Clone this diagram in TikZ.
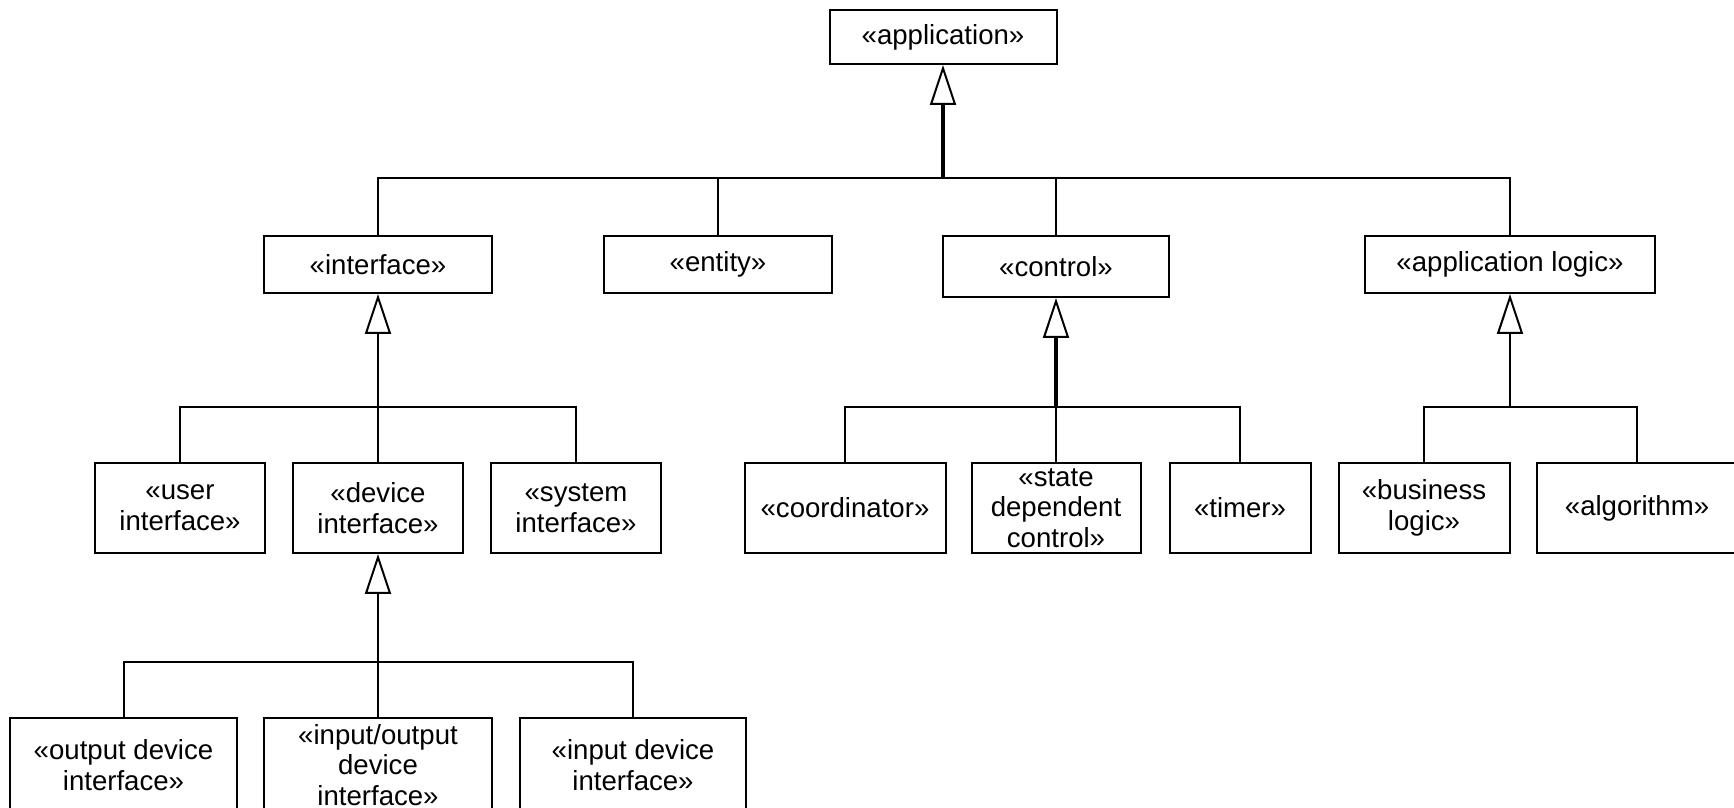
\documentclass[tikz,border=0pt]{standalone}
\usepackage{fontspec}
\setmainfont{Liberation Sans}
\usetikzlibrary{arrows.meta}

\begin{document}
\begin{tikzpicture}[x=0.5pt, y=0.5pt,
		stereo/.style={rectangle, draw, line width=1pt, align=center, inner sep=0pt, font=\fontsize{13.8}{15.3}\selectfont},
		gen/.style={-{Triangle[open, length=20pt, width=13pt, line width=1pt]}, line width=1pt},
		wire/.style={line width=1pt}]
		\clip (0,0) rectangle (1734,808);
		\fill [white] (0,0) rectangle (1734,808);
		
		\node (app) [stereo, minimum width=113.5pt, minimum height=27pt] at (943,771) {«application»};
		
		\node (iface) [stereo, minimum width=114pt, minimum height=28.5pt] at (378,543.5) {«interface»};
		\node (entity) [stereo, minimum width=114pt, minimum height=28.5pt] at (718,543.5) {«entity»};
		\node (control) [stereo, minimum width=113pt, minimum height=30.5pt] at (1056,541.5) {«control»};
		\node (applogic) [stereo, minimum width=145pt, minimum height=28.5pt] at (1510,543.5) {«application logic»};
		
		\node (user) [stereo, minimum width=85pt, minimum height=45pt] at (180,300) {«user\\interface»};
		\node (device) [stereo, minimum width=85pt, minimum height=45pt] at (378,300) {«device\\interface»};
		\node (system) [stereo, minimum width=85pt, minimum height=45pt] at (576,300) {«system\\interface»};
		\node (coord) [stereo, minimum width=100.5pt, minimum height=45pt] at (845,300) {«coordinator»};
		\node (state) [stereo, minimum width=84.5pt, minimum height=45pt] at (1056,300) {«state\\dependent\\control»};
		\node (timer) [stereo, minimum width=70.5pt, minimum height=45pt] at (1240,300) {«timer»};
		\node (business) [stereo, minimum width=85.5pt, minimum height=45pt] at (1424,300) {«business\\logic»};
		\node (algorithm) [stereo, minimum width=100pt, minimum height=45pt] at (1637,300) {«algorithm»};
		
		\node (output) [stereo, minimum width=113.5pt, minimum height=47pt] at (123.5,43) {«output device\\interface»};
		\node (io) [stereo, minimum width=114pt, minimum height=47pt] at (378,43) {«input/output\\device\\interface»};
		\node (input) [stereo, minimum width=113pt, minimum height=47pt] at (633,43) {«input device\\interface»};
		
		\coordinate (busA) at (943,630);
		\draw [gen, line width=1.8pt] (busA) -- (app.south);
		\draw [wire] (iface.north) |- (busA) -| (applogic.north);
		\draw [wire] (entity.north) -- (entity.north |- busA);
		\draw [wire] (control.north) -- (control.north |- busA);
		
		\coordinate (busI) at (378,401);
		\draw [gen] (busI) -- (iface.south);
		\draw [wire] (user.north) |- (busI) -| (system.north);
		\draw [wire] (device.north) -- (busI);
		
		\coordinate (busC) at (1056,401);
		\draw [gen, line width=1.8pt] (busC) -- (control.south);
		\draw [wire] (coord.north) |- (busC) -| (timer.north);
		\draw [wire] (state.north) -- (busC);
		
		\coordinate (busL) at (1510,401);
		\draw [gen] (busL) -- (applogic.south);
		\draw [wire] (business.north) |- (busL) -| (algorithm.north);
		
		\coordinate (busD) at (378,146);
		\draw [gen] (busD) -- (device.south);
		\draw [wire] (output.north) |- (busD) -| (input.north);
		\draw [wire] (io.north) -- (busD);
		
\end{tikzpicture}
\end{document}
